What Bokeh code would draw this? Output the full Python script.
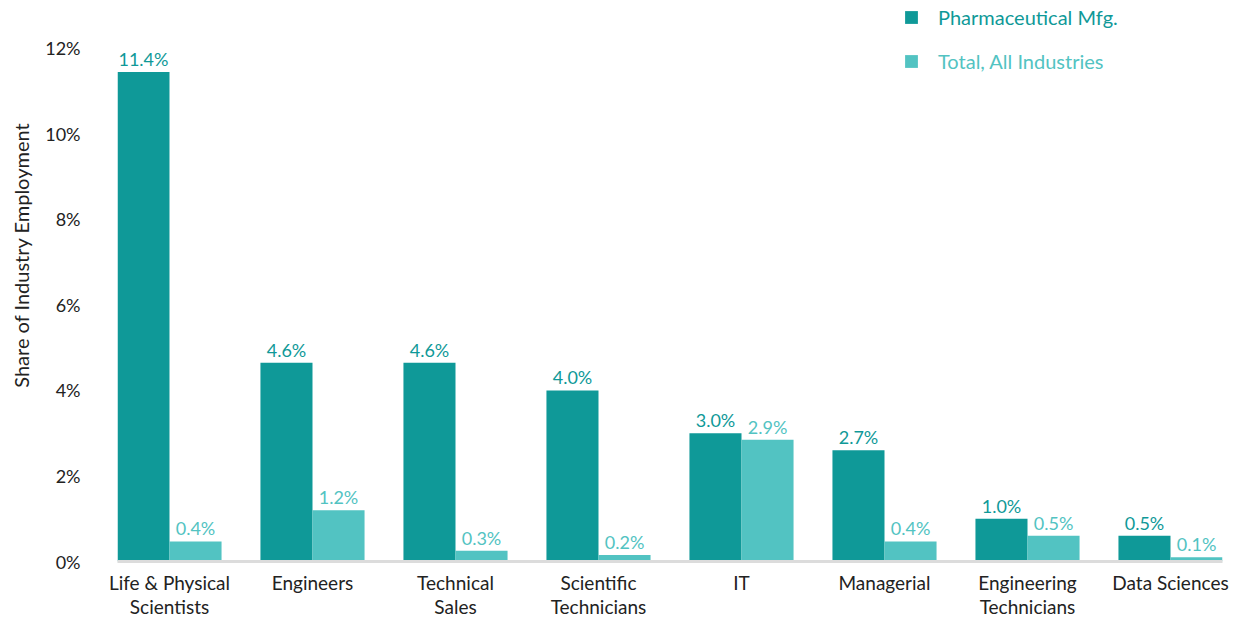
import numpy as np
from bokeh.plotting import figure
from bokeh.models import (ColumnDataSource, FixedTicker, Legend, LegendItem, Title,
                          Range1d)
from bokeh.core.properties import value
from bokeh.embed import file_html
from bokeh.resources import INLINE

categories = ["Life & Physical\nScientists", "Engineers", "Technical\nSales",
              "Scientific\nTechnicians", "IT", "Managerial",
              "Engineering\nTechnicians", "Data Sciences"]
pharma = [11.45, 4.65, 4.65, 4.0, 3.0, 2.6, 1.0, 0.6]
total = [0.47, 1.2, 0.25, 0.15, 2.85, 0.47, 0.6, 0.1]
pharma_labels = ["11.4%", "4.6%", "4.6%", "4.0%", "3.0%", "2.7%", "1.0%", "0.5%"]
total_labels = ["0.4%", "1.2%", "0.3%", "0.2%", "2.9%", "0.4%", "0.5%", "0.1%"]
y_ticks = [0, 2, 4, 6, 8, 10, 12]
series_names = ["Pharmaceutical Mfg.", "Total, All Industries"]
y_title = "Share of Industry Employment"

DARK = "#0f9998"
LIGHT = "#52c3c2"
FONT = "Lato"
W = 0.364

x = np.arange(len(categories))
src_p = ColumnDataSource(dict(x=x - W / 2, top=pharma, lab=pharma_labels))
src_t = ColumnDataSource(dict(x=x + W / 2, top=total, lab=total_labels))

p = figure(width=1238, height=620, output_backend="svg", toolbar_location=None,
           x_range=Range1d(-0.3636, len(categories) - 1 + 0.3636),
           y_range=Range1d(0, 13.12),
           min_border_left=117, min_border_right=16, min_border_top=0,
           min_border_bottom=59)
p.outline_line_color = None
p.grid.grid_line_color = None
p.background_fill_color = "white"
p.border_fill_color = "white"

r1 = p.vbar(x="x", top="top", width=W, source=src_p, color=DARK, line_color=None)
r2 = p.vbar(x="x", top="top", width=W, source=src_t, color=LIGHT, line_color=None)

p.text(x="x", y="top", text="lab", source=src_p, text_align="center",
       text_baseline="bottom", y_offset=-2, text_color=DARK,
       text_font=value(FONT), text_font_size="18px")
p.text(x="x", y="top", text="lab", source=src_t, text_align="center",
       text_baseline="bottom", y_offset=-2, text_color=LIGHT,
       text_font=value(FONT), text_font_size="18px")

# x axis
p.xaxis.ticker = FixedTicker(ticks=list(x))
p.xaxis.major_label_overrides = {int(i): c for i, c in zip(x, categories)}
p.xaxis.major_tick_line_color = None
p.xaxis.minor_tick_line_color = None
p.xaxis.axis_line_color = "#dcdcdc"
p.xaxis.axis_line_width = 3
p.xaxis.major_label_text_font = FONT
p.xaxis.major_label_text_font_size = "19px"
p.xaxis.major_label_text_color = "#222222"
p.xaxis.major_label_text_line_height = 1.05
p.xaxis.major_label_standoff = 3

# y axis
p.yaxis.ticker = FixedTicker(ticks=y_ticks)
p.yaxis.major_label_overrides = {t: f"{t}%" for t in y_ticks}
p.yaxis.major_tick_line_color = None
p.yaxis.minor_tick_line_color = None
p.yaxis.axis_line_color = None
p.yaxis.major_label_text_font = FONT
p.yaxis.major_label_text_font_size = "18px"
p.yaxis.major_label_text_color = "#222222"
p.yaxis.major_label_standoff = 31

ytitle = Title(text=y_title, align="right", offset=122, vertical_align="top",
               standoff=15, text_font=FONT, text_font_size="20px",
               text_font_style="normal", text_color="#222222")
p.add_layout(ytitle, "left")

for r, name, col, ybot in [(r1, series_names[0], DARK, 532),
                           (r2, series_names[1], LIGHT, 488)]:
    leg = Legend(items=[LegendItem(label=name, renderers=[r])],
                 location=(786, ybot), orientation="vertical",
                 glyph_width=16, glyph_height=16, label_standoff=19,
                 label_height=20, padding=0, margin=0, spacing=0,
                 border_line_color=None, background_fill_alpha=0,
                 label_text_font=FONT, label_text_font_size="20px",
                 label_text_color=col)
    p.add_layout(leg)

open("out.html", "w").write(file_html(p, INLINE))
